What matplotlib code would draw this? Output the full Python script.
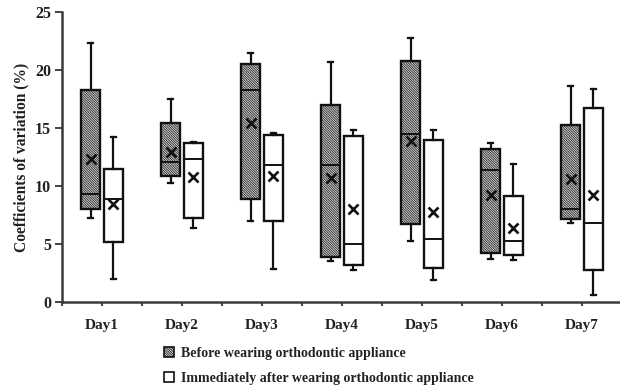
import matplotlib
matplotlib.use("Agg")
import matplotlib.pyplot as plt
from matplotlib.patches import Patch

plt.rcParams['font.family'] = ['Liberation Serif', 'DejaVu Serif']
plt.rcParams['font.weight'] = 'bold'
plt.rcParams['hatch.linewidth'] = 0.5
plt.rcParams['hatch.color'] = '#8e8e8e'

days = ["Day1", "Day2", "Day3", "Day4", "Day5", "Day6", "Day7"]

before_whislo = [7.2, 10.3, 7.0, 3.55, 5.25, 3.7, 6.85]
before_q1     = [8.0, 10.9, 8.9, 3.9, 6.7, 4.2, 7.15]
before_med    = [9.3, 12.1, 18.3, 11.8, 14.5, 11.4, 8.0]
before_q3     = [18.3, 15.4, 20.5, 17.0, 20.75, 13.2, 15.3]
before_whishi = [22.3, 17.5, 21.5, 20.7, 22.8, 13.7, 18.6]
before_mean   = [12.35, 12.9, 15.4, 10.7, 13.9, 9.2, 10.6]

after_whislo = [1.95, 6.4, 2.85, 2.8, 1.9, 3.6, 0.63]
after_q1     = [5.15, 7.2, 7.0, 3.2, 2.93, 4.05, 2.8]
after_med    = [8.9, 12.3, 11.8, 4.97, 5.4, 5.3, 6.85]
after_q3     = [11.5, 13.7, 14.4, 14.3, 13.97, 9.1, 16.75]
after_whishi = [14.2, 13.8, 14.6, 14.8, 14.8, 11.9, 18.4]
after_mean   = [8.45, 10.8, 10.9, 8.0, 7.8, 6.35, 9.2]

legend_labels = ["Before wearing orthodontic appliance",
                 "Immediately after wearing orthodontic appliance"]
ylabel = "Coefficients of variation (%)"

HATCH = '\\' * 14
FILL = '#d2d2d2'


def make_stats(lo, q1, med, q3, hi, mean):
    return [dict(whislo=a, q1=b, med=c, q3=d, whishi=e, mean=f, fliers=[])
            for a, b, c, d, e, f in zip(lo, q1, med, q3, hi, mean)]


fig = plt.figure(figsize=(6.2, 3.92), dpi=100)
ax = fig.add_axes([62 / 620, 90 / 392, 560 / 620, 290 / 392])

pos = list(range(1, len(days) + 1))
off = 0.14
width = 0.235

common = dict(
    widths=width, showmeans=True, patch_artist=True, showfliers=False,
    medianprops=dict(color='#111111', linewidth=1.4),
    whiskerprops=dict(color='#111111', linewidth=1.6),
    capprops=dict(color='#111111', linewidth=1.6),
    meanprops=dict(marker='x', markeredgecolor='#111111', markersize=6.5,
                   markeredgewidth=1.9),
    capwidths=0.06,
    manage_ticks=False,
)

ax.bxp(make_stats(before_whislo, before_q1, before_med, before_q3,
                  before_whishi, before_mean),
       positions=[p - off for p in pos],
       boxprops=dict(facecolor=FILL, edgecolor='#111111', linewidth=1.7,
                     hatch=HATCH),
       **common)
ax.bxp(make_stats(after_whislo, after_q1, after_med, after_q3,
                  after_whishi, after_mean),
       positions=[p + off for p in pos],
       boxprops=dict(facecolor='white', edgecolor='#111111', linewidth=1.7),
       **common)

ax.set_xlim(0.5, 7.5)
ax.set_ylim(0, 25)
ax.set_yticks([0, 5, 10, 15, 20, 25])
ax.set_xticks(pos)
ax.set_xticklabels(days)
ax.set_xticks([p + 0.5 for p in [0] + pos], minor=True)

for s in ['top', 'right']:
    ax.spines[s].set_visible(False)
for s in ['left', 'bottom']:
    ax.spines[s].set_linewidth(1.8)
    ax.spines[s].set_color('#3a3a3a')

ax.tick_params(axis='y', direction='out', length=5, width=1.2, pad=3,
               labelsize=11.5, colors='#222222')
ax.tick_params(axis='x', which='both', direction='out', length=3, width=1.2,
               pad=9, labelsize=11, colors='#222222')

for lab in ax.get_xticklabels() + ax.get_yticklabels():
    lab.set_fontweight('bold')

fig.text(21 / 620, 1 - 157 / 392, ylabel, rotation=90, ha='center',
         va='center', fontsize=11.2, fontweight='bold', color='#222222')

handles = [Patch(facecolor=FILL, edgecolor='#111111', linewidth=1.2,
                 hatch=HATCH),
           Patch(facecolor='white', edgecolor='#111111', linewidth=1.2)]
fig.legend(handles, legend_labels, loc='upper left',
           bbox_to_anchor=(164 / 620, 1 - 347 / 392), frameon=False,
           handlelength=0.7, handleheight=0.7, handletextpad=0.55,
           labelspacing=0.85, prop=dict(size=10, weight='bold'),
           labelcolor='#222222', borderaxespad=0, borderpad=0)

fig.savefig("out.png", dpi=100)
